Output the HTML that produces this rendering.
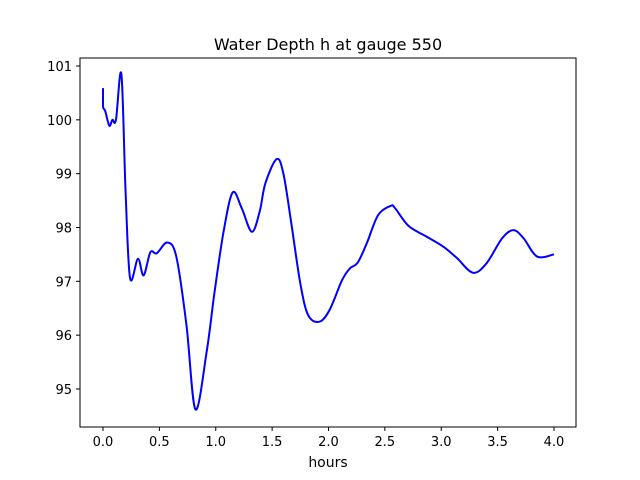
<!DOCTYPE html>
<html><head><meta charset="utf-8"><style>
body{margin:0;background:#fff}
svg{display:block;font-family:"DejaVu Sans","Liberation Sans",sans-serif}
</style></head><body>
<svg id="chart" width="640" height="480">
<rect width="640" height="480" fill="#fff"/>
<text x="328" y="50" font-size="16" text-anchor="middle">Water Depth h at gauge 550</text>
<g id="xt"></g>
<g id="yt"></g>
<path id="line" fill="none" stroke="#0000ff" stroke-width="2"/>
<rect x="80" y="58" width="496" height="369" fill="none" stroke="#000" stroke-width="1"/>
<text x="328" y="467" font-size="14" text-anchor="middle">hours</text>
</svg>
<script>
const hours=[0,0,0.02,0.056,0.083,0.115,0.163,0.2,0.24,0.31,0.36,0.42,0.476,0.57,0.65,0.74,0.82,0.92,0.99,1.07,1.15,1.23,1.32,1.39,1.44,1.54,1.60,1.67,1.75,1.82,1.92,2.01,2.12,2.19,2.26,2.34,2.44,2.55,2.59,2.71,2.87,3.02,3.14,3.28,3.40,3.54,3.64,3.73,3.85,4.0];
const depth=[100.59,100.25,100.16,99.89,100.0,100.0,100.85,98.68,97.06,97.42,97.11,97.54,97.52,97.72,97.46,96.19,94.62,95.70,96.81,97.93,98.65,98.36,97.92,98.30,98.82,99.27,99.0,98.08,96.96,96.37,96.25,96.47,97.02,97.24,97.35,97.71,98.23,98.40,98.36,98.03,97.83,97.64,97.43,97.16,97.33,97.80,97.95,97.80,97.46,97.50];
const xTicks=[0,0.5,1,1.5,2,2.5,3,3.5,4];
const xLabels=["0.0","0.5","1.0","1.5","2.0","2.5","3.0","3.5","4.0"];
const yTicks=[95,96,97,98,99,100,101];
const yLabels=["95","96","97","98","99","100","101"];
const X=h=>103+h*112.75;
const Y=v=>66+(101-v)*53.83;
const NS="http://www.w3.org/2000/svg";
const xt=document.getElementById('xt'),yt=document.getElementById('yt');
xTicks.forEach((t,i)=>{
 const l=document.createElementNS(NS,'line');
 l.setAttribute('x1',X(t));l.setAttribute('x2',X(t));l.setAttribute('y1',427);l.setAttribute('y2',431);l.setAttribute('stroke','#000');
 
 
 xt.appendChild(l);
 const s=document.createElementNS(NS,'text');
 s.setAttribute('x',X(t));s.setAttribute('y',446);s.setAttribute('font-size','13');s.setAttribute('text-anchor','middle');
 s.textContent=xLabels[i];
 
 
 xt.appendChild(s);
});
yTicks.forEach((t,i)=>{
 const l=document.createElementNS(NS,'line');
 l.setAttribute('x1',76);l.setAttribute('x2',80);l.setAttribute('y1',Y(t));l.setAttribute('y2',Y(t));l.setAttribute('stroke','#000');
 
 
 yt.appendChild(l);
 const s=document.createElementNS(NS,'text');
 s.setAttribute('x',72);s.setAttribute('y',Y(t)+5);s.setAttribute('font-size','13');s.setAttribute('text-anchor','end');
 s.textContent=yLabels[i];
 
 
 yt.appendChild(s);
});
const P=hours.map((h,i)=>[X(h),Y(depth[i])]);
let d='M'+P[0][0]+','+P[0][1];
for(let i=0;i<P.length-1;i++){
 const p0=P[Math.max(0,i-1)],p1=P[i],p2=P[i+1],p3=P[Math.min(P.length-1,i+2)];
 const c1=[p1[0]+(p2[0]-p0[0])/6,p1[1]+(p2[1]-p0[1])/6];
 const c2=[p2[0]-(p3[0]-p1[0])/6,p2[1]-(p3[1]-p1[1])/6];
 if(i===0){d+='L'+p2[0]+','+p2[1];continue;}
 d+='C'+c1.join(',')+' '+c2.join(',')+' '+p2.join(',');
}
document.getElementById('line').setAttribute('d',d);
</script>
</body></html>
